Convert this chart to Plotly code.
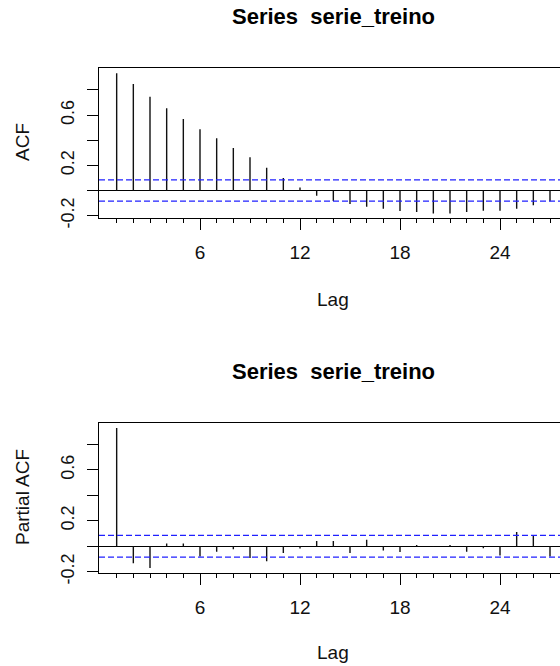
import plotly.graph_objects as go

# ---- data ----
lags = list(range(1, 28))
acf_vals = [0.933, 0.848, 0.747, 0.654, 0.569, 0.487, 0.415, 0.338, 0.264, 0.182,
            0.100, 0.025, -0.041, -0.084, -0.107, -0.129, -0.145, -0.163, -0.171, -0.182,
            -0.182, -0.171, -0.161, -0.161, -0.145, -0.118, -0.086]
pacf_vals = [0.928, -0.133, -0.170, 0.021, 0.021, -0.081, -0.042, -0.024, -0.092, -0.118,
             -0.052, -0.018, 0.042, 0.042, -0.052, 0.052, -0.034, -0.044, 0.010, 0.002,
             0.010, -0.042, -0.016, -0.073, 0.112, 0.081, -0.081]
ci = 0.085
major_ticks = [6, 12, 18, 24]
y_ticks = [-0.2, 0.0, 0.2, 0.4, 0.6, 0.8]
y_ticktext = ["-0.2", "", "0.2", "", "0.6", ""]
title_text = "Series  serie_treino"

W, H = 560, 666
ML = 99
PW = W - ML
FONT = "Liberation Sans, Arial, sans-serif"


def px_x(px):
    return (px - ML) / PW


def px_y(px):
    return 1 - px / H


def spikes(vals):
    xs, ys = [], []
    for lag, v in zip(lags, vals):
        xs += [lag, lag, None]
        ys += [0, v, None]
    return xs, ys


fig = go.Figure()
for vals, ya in [(acf_vals, "y"), (pacf_vals, "y2")]:
    xs, ys = spikes(vals)
    fig.add_trace(go.Scatter(x=xs, y=ys, mode="lines", xaxis="x" if ya == "y" else "x2",
                             yaxis=ya, line=dict(color="#111111", width=1.4),
                             hoverinfo="skip", showlegend=False))

x_range = [-0.06, 27.6]
xaxis_common = dict(
    range=x_range, tickmode="array", tickvals=major_ticks,
    ticktext=[str(t) for t in major_ticks],
    ticks="outside", ticklen=11, tickwidth=1, tickcolor="black",
    minor=dict(tickmode="array", tickvals=lags, ticks="outside", ticklen=4,
               tickwidth=1, tickcolor="black"),
    showline=True, linecolor="black", linewidth=1, mirror=True,
    showgrid=False, zeroline=False, automargin=False,
    tickfont=dict(family=FONT, size=19, color="#111111"),
    ticklabelstandoff=6,
)
yaxis_common = dict(
    tickmode="array", tickvals=y_ticks, ticktext=y_ticktext,
    ticks="outside", ticklen=11, tickwidth=1, tickcolor="black",
    tickangle=-90, automargin=False,
    showline=True, linecolor="black", linewidth=1, mirror=False,
    showgrid=False, zeroline=True, zerolinecolor="black", zerolinewidth=1,
    tickfont=dict(family=FONT, size=18, color="#111111"),
    ticklabelstandoff=6,
)

fig.update_layout(
    template="none",
    width=W, height=H, autosize=False,
    margin=dict(l=ML, r=0, t=0, b=0, pad=0, autoexpand=False),
    paper_bgcolor="white", plot_bgcolor="white",
    showlegend=False,
    xaxis=dict(domain=[0, 1], anchor="y", **xaxis_common),
    xaxis2=dict(domain=[0, 1], anchor="y2", **xaxis_common),
    yaxis=dict(domain=[px_y(218.3), px_y(68)], range=[-0.221, 0.975], anchor="x", **yaxis_common),
    yaxis2=dict(domain=[px_y(573.3), px_y(423.3)], range=[-0.212, 0.965], anchor="x2", **yaxis_common),
)

# confidence bands
for yref, xref in [("y", "x"), ("y2", "x2")]:
    for s in (1, -1):
        fig.add_shape(type="line", xref=f"{xref} domain", yref=yref, x0=0, x1=1,
                      y0=s * ci, y1=s * ci,
                      line=dict(color="#2020ff", width=1.2, dash="6px,3px"))

ann_font = dict(family=FONT, size=19, color="#111111")
annotations = [
    dict(text="<b>" + title_text + "</b>", x=px_x(333), y=px_y(16.4),
         font=dict(family=FONT, size=22, color="black")),
    dict(text="<b>" + title_text + "</b>", x=px_x(333), y=px_y(371.2),
         font=dict(family=FONT, size=22, color="black")),
    dict(text="Lag", x=px_x(332.5), y=px_y(299.4), font=ann_font),
    dict(text="Lag", x=px_x(332.5), y=px_y(652.4), font=ann_font),
    dict(text="ACF", x=px_x(22.5), y=px_y(142.5), textangle=-90, font=ann_font),
    dict(text="Partial ACF", x=px_x(22), y=px_y(497), textangle=-90, font=ann_font),
]
for a in annotations:
    fig.add_annotation(xref="paper", yref="paper", showarrow=False,
                       xanchor="center", yanchor="middle", **a)

fig.write_html("out.html")
